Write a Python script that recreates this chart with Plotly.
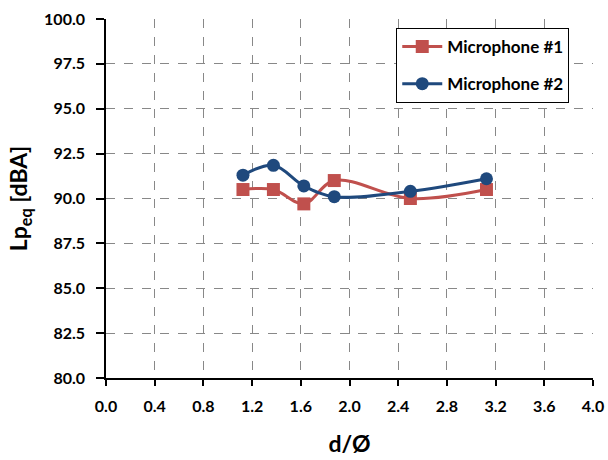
import plotly.graph_objects as go

x_vals = [1.125, 1.375, 1.625, 1.875, 2.5, 3.125]
mic1 = [90.5, 90.5, 89.7, 91.0, 90.0, 90.5]
mic2 = [91.3, 91.85, 90.7, 90.1, 90.4, 91.1]
names = ["Microphone #1", "Microphone #2"]

red = "#C0504D"
blue = "#1F497D"
font = "Lato"

fig = go.Figure()
fig.add_trace(go.Scatter(x=x_vals, y=mic1, name=names[0], mode="lines+markers", legendgroup="g1",
                         line=dict(color=red, width=3, shape="spline", smoothing=1.0),
                         marker=dict(symbol="square", size=13, color=red)))
fig.add_trace(go.Scatter(x=x_vals, y=mic2, name=names[1], mode="lines+markers", legendgroup="g2",
                         line=dict(color=blue, width=3, shape="spline", smoothing=1.0),
                         marker=dict(symbol="circle", size=13, color=blue)))

tickfont = dict(family=font, size=16, color="black", weight="bold")
titlefont = dict(family=font, size=23, color="black", weight="bold")

fig.update_layout(
    width=608, height=460,
    margin=dict(l=106, r=15, t=19, b=82, autoexpand=False),
    paper_bgcolor="white", plot_bgcolor="white",
    font=dict(family=font, size=14, color="black"),
    showlegend=True,
    legend=dict(x=0.596, y=0.975, xanchor="left", yanchor="top",
                bgcolor="white", bordercolor="black", borderwidth=1,
                font=dict(family=font, size=17, color="black", weight="bold"),
                traceorder="grouped", tracegroupgap=12, itemwidth=40),
    xaxis=dict(range=[0, 4], dtick=0.4, tick0=0, tickformat=".1f",
               showgrid=True, gridcolor="#888888", griddash="dash", gridwidth=1,
               showline=True, linecolor="black", linewidth=2, mirror=False,
               ticks="outside", ticklen=6, tickcolor="black", tickwidth=2,
               zeroline=False, automargin=False, ticklabelstandoff=7,
               tickfont=tickfont,
               title=dict(text="d/Ø", font=titlefont, standoff=22)),
    yaxis=dict(range=[80, 100], dtick=2.5, tick0=80, tickformat=".1f",
               ticksuffix="\u00a0\u00a0",
               showgrid=True, gridcolor="#888888", griddash="dash", gridwidth=1,
               showline=True, linecolor="black", linewidth=2, mirror=False,
               ticks="outside", ticklen=8, tickcolor="black", tickwidth=2,
               zeroline=False, automargin=False,
               tickfont=tickfont,
               title=dict(text="Lp<sub>eq</sub> [dBA]", font=titlefont, standoff=10)),
)

fig.write_html("out.html")
